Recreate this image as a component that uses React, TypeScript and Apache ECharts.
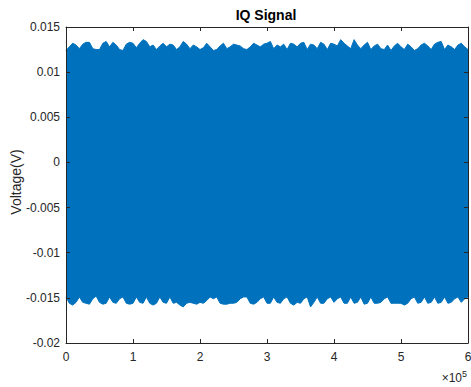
import React, { useEffect, useRef } from "react";
import * as echarts from "echarts";

// Sample index step (samples) between envelope readings
const STEP = 5000;

// Upper envelope of the IQ signal (V), read every 5000 samples
const upperEnvelope = [
  0.0124, 0.0128, 0.0132, 0.0130, 0.0126, 0.0131, 0.0133, 0.0133, 0.0126, 0.0125,
  0.0125, 0.0132, 0.0134, 0.0128, 0.0133, 0.0130, 0.0125, 0.0124, 0.0131, 0.0133,
  0.0132, 0.0127, 0.0132, 0.0136, 0.0134, 0.0128, 0.0130, 0.0125, 0.0129, 0.0132,
  0.0128, 0.0131, 0.0130, 0.0125, 0.0128, 0.0134, 0.0131, 0.0126, 0.0130, 0.0128,
  0.0125, 0.0127, 0.0132, 0.0128, 0.0124, 0.0125, 0.0129, 0.0132, 0.0126, 0.0128,
  0.0131, 0.0130, 0.0129, 0.0126, 0.0125, 0.0128, 0.0132, 0.0130, 0.0128, 0.0131,
  0.0132, 0.0134, 0.0126, 0.0130, 0.0128, 0.0131, 0.0125, 0.0132, 0.0131, 0.0128,
  0.0132, 0.0133, 0.0125, 0.0131, 0.0130, 0.0126, 0.0133, 0.0131, 0.0125, 0.0132,
  0.0131, 0.0129, 0.0136, 0.0132, 0.0129, 0.0126, 0.0136, 0.0130, 0.0126, 0.0130,
  0.0133, 0.0125, 0.0129, 0.0131, 0.0126, 0.0125, 0.0130, 0.0124, 0.0129, 0.0132,
  0.0128, 0.0125, 0.0131, 0.0128, 0.0124, 0.0126, 0.0130, 0.0132, 0.0129, 0.0125,
  0.0131, 0.0133, 0.0134, 0.0125, 0.0130, 0.0128, 0.0125, 0.0130, 0.0132, 0.0128,
  0.0125,
];

// Lower envelope of the IQ signal (V), read every 5000 samples
const lowerEnvelope = [
  -0.0149, -0.0156, -0.0158, -0.0155, -0.0149, -0.0155, -0.0156, -0.0157, -0.0151, -0.0148,
  -0.0155, -0.0157, -0.0156, -0.0149, -0.0155, -0.0156, -0.0151, -0.0149, -0.0156, -0.0157,
  -0.0156, -0.0149, -0.0155, -0.0156, -0.0149, -0.0156, -0.0158, -0.0156, -0.0149, -0.0155,
  -0.0156, -0.0149, -0.0156, -0.0155, -0.0158, -0.0160, -0.0156, -0.0155, -0.0156, -0.0157,
  -0.0155, -0.0156, -0.0153, -0.0149, -0.0151, -0.0149, -0.0156, -0.0157, -0.0157, -0.0156,
  -0.0156, -0.0155, -0.0151, -0.0149, -0.0149, -0.0156, -0.0157, -0.0155, -0.0151, -0.0149,
  -0.0156, -0.0156, -0.0149, -0.0155, -0.0156, -0.0151, -0.0149, -0.0156, -0.0158, -0.0155,
  -0.0156, -0.0151, -0.0149, -0.0160, -0.0155, -0.0149, -0.0156, -0.0156, -0.0151, -0.0149,
  -0.0155, -0.0151, -0.0149, -0.0156, -0.0156, -0.0149, -0.0156, -0.0155, -0.0149, -0.0157,
  -0.0156, -0.0149, -0.0156, -0.0156, -0.0155, -0.0151, -0.0149, -0.0156, -0.0156, -0.0156,
  -0.0156, -0.0158, -0.0156, -0.0151, -0.0149, -0.0156, -0.0155, -0.0149, -0.0156, -0.0155,
  -0.0149, -0.0156, -0.0155, -0.0149, -0.0156, -0.0155, -0.0151, -0.0149, -0.0155, -0.0151,
  -0.0149,
];

const xTicks = [0, 1, 2, 3, 4, 5, 6];
const yTicks = [-0.02, -0.015, -0.01, -0.005, 0, 0.005, 0.01, 0.015];

const TITLE = "IQ Signal";
const Y_LABEL = "Voltage(V)";

const FONT = "Arial, 'Liberation Sans', Helvetica, sans-serif";
const INK = "#262626";
const BLUE = "#0072BD";

export default function App() {
  const ref = useRef<HTMLDivElement>(null);

  useEffect(() => {
    if (!ref.current) return;
    const chart = echarts.init(ref.current, undefined, { renderer: "svg" });

    const upper = upperEnvelope.map((v, i) => [i * STEP, v]);
    const lower = lowerEnvelope.map((v, i) => [i * STEP, v]);

    const xMax = xTicks[xTicks.length - 1] * 1e5;
    const yMin = yTicks[0];
    const yMax = yTicks[yTicks.length - 1];

    const tickStyle = { inside: true, length: 4, lineStyle: { color: INK, width: 1 } };
    const lineStyle = { lineStyle: { color: INK, width: 1 } };

    chart.setOption({
      animation: false,
      backgroundColor: "#ffffff",
      grid: {
        left: 66,
        top: 27,
        width: 402,
        height: 316,
        containLabel: false,
        outerBoundsMode: "none",
      },
      xAxis: [
        {
          type: "value",
          min: 0,
          max: xMax,
          interval: 1e5,
          position: "bottom",
          z: 5,
          axisLine: { show: true, onZero: false, ...lineStyle },
          axisTick: tickStyle,
          splitLine: { show: false },
          axisLabel: {
            color: INK,
            fontSize: 12,
            fontFamily: FONT,
            margin: 8,
            formatter: (v: number) => String(Math.round(v / 1e5)),
          },
        },
        {
          type: "value",
          min: 0,
          max: xMax,
          interval: 1e5,
          position: "top",
          z: 5,
          axisLine: { show: true, onZero: false, ...lineStyle },
          axisTick: tickStyle,
          splitLine: { show: false },
          axisLabel: { show: false },
        },
      ],
      yAxis: [
        {
          type: "value",
          min: yMin,
          max: yMax,
          interval: 0.005,
          position: "left",
          z: 5,
          axisLine: { show: true, onZero: false, ...lineStyle },
          axisTick: tickStyle,
          splitLine: { show: false },
          axisLabel: {
            color: INK,
            fontSize: 12,
            fontFamily: FONT,
            margin: 6,
            formatter: (v: number) => String(Number(v.toFixed(4))),
          },
        },
        {
          type: "value",
          min: yMin,
          max: yMax,
          interval: 0.005,
          position: "right",
          z: 5,
          axisLine: { show: true, onZero: false, ...lineStyle },
          axisTick: tickStyle,
          splitLine: { show: false },
          axisLabel: { show: false },
        },
      ],
      series: [
        {
          type: "line",
          data: upper,
          xAxisIndex: 0,
          yAxisIndex: 0,
          showSymbol: false,
          symbol: "none",
          lineStyle: { color: BLUE, width: 1 },
          areaStyle: { color: BLUE, opacity: 1, origin: -0.002 },
          z: 1,
        },
        {
          type: "line",
          data: lower,
          xAxisIndex: 0,
          yAxisIndex: 0,
          showSymbol: false,
          symbol: "none",
          lineStyle: { color: BLUE, width: 1 },
          areaStyle: { color: BLUE, opacity: 1, origin: 0.002 },
          z: 1,
        },
      ],
      graphic: [
        {
          type: "text",
          x: 266,
          y: 15,
          style: {
            text: TITLE,
            fontSize: 14,
            fontWeight: "bold",
            fontFamily: FONT,
            fill: "#000000",
            textAlign: "center",
            textVerticalAlign: "middle",
          },
        },
        {
          type: "text",
          x: 16,
          y: 182,
          rotation: Math.PI / 2,
          style: {
            text: Y_LABEL,
            fontSize: 14,
            fontFamily: FONT,
            fill: INK,
            textAlign: "center",
            textVerticalAlign: "middle",
          },
        },
        {
          type: "text",
          x: 467,
          y: 378,
          style: {
            text: "{a|×10}{b|5}",
            textAlign: "right",
            textVerticalAlign: "middle",
            rich: {
              a: { fontSize: 12, fontFamily: FONT, fill: INK, color: INK },
              b: {
                fontSize: 9,
                fontFamily: FONT,
                fill: INK,
                color: INK,
                verticalAlign: "bottom",
                padding: [0, 0, 9, 0],
              },
            },
          },
        },
      ],
    });

    return () => chart.dispose();
  }, []);

  return (
    <div
      ref={ref}
      style={{ position: "absolute", left: 0, top: 0, width: 471, height: 387 }}
    />
  );
}
